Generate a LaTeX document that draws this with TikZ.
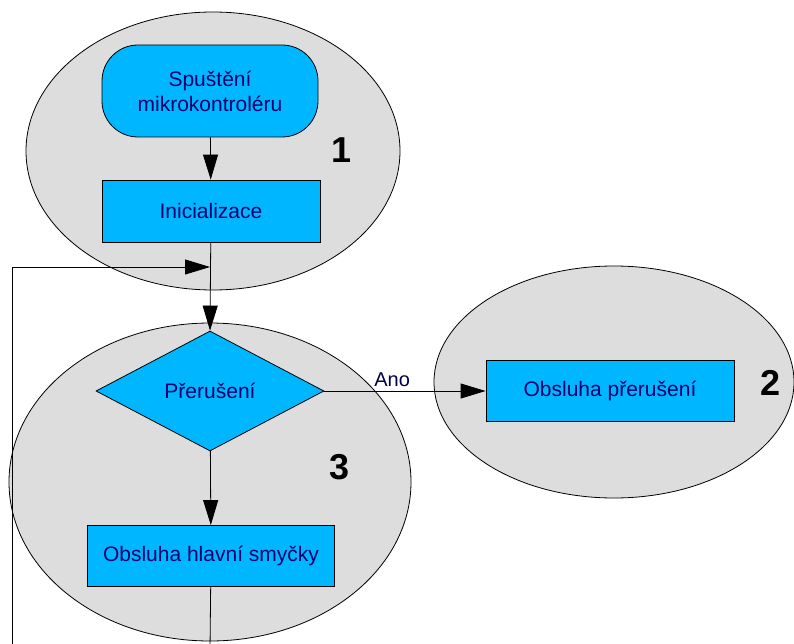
\documentclass[tikz,border=0pt]{standalone}
\usepackage{fontspec}
\setmainfont{Liberation Sans}
\usetikzlibrary{shapes.geometric,arrows.meta}
\definecolor{boxblue}{RGB}{0,183,255}
\definecolor{zonegray}{RGB}{221,221,221}
\definecolor{textnavy}{RGB}{0,0,110}
\tikzset{
  zone/.style={ellipse,draw=black,fill=zonegray,line width=0.8pt,inner sep=0pt},
  procbox/.style={rectangle,draw=black,fill=boxblue,line width=0.8pt,inner sep=0pt,
    text=textnavy,font=\fontsize{21}{25}\selectfont,align=center},
  startbox/.style={procbox,rounded corners=36pt},
  decbox/.style={diamond,draw=black,fill=boxblue,line width=0.8pt,inner sep=0pt,
    text=textnavy,font=\fontsize{21}{25}\selectfont,aspect=1.9},
  zonenum/.style={font=\fontsize{36}{36}\selectfont\bfseries,text=black,inner sep=0pt},
  flow/.style={line width=0.8pt,-{Triangle[length=25pt,width=15pt]}},
  plain/.style={line width=0.8pt}
}
\begin{document}
\begin{tikzpicture}[x=1pt,y=-1pt]
  \useasboundingbox (0,0) rectangle (794,644);

  % grey zones
  \node[zone,minimum width=374pt,minimum height=278pt] (z1) at (213,151) {};
  \node[zone,minimum width=402pt,minimum height=318pt] (z3) at (210,482) {};
  \node[zone,minimum width=360pt,minimum height=232pt] (z2) at (614,382) {};

  % zone numbers
  \node[zonenum] (n1) at (342,150) {1};
  \node[zonenum] (n2) at (770,383) {2};
  \node[zonenum] (n3) at (340,467) {3};

  % flowchart elements
  \node[startbox,minimum width=216pt,minimum height=92pt] (start) at (210,91)
    {Spuštění\\mikrokontroléru};
  \node[procbox,minimum width=218pt,minimum height=62pt] (init) at (211,211) {Inicializace};
  \node[decbox,minimum width=228pt,minimum height=120pt] (irq) at (210,391) {Přerušení};
  \node[procbox,minimum width=247pt,minimum height=61pt] (mainloop) at (211,556)
    {Obsluha hlavní smyčky};
  \node[procbox,minimum width=248pt,minimum height=61pt] (isr) at (610,391)
    {Obsluha přerušení};

  % loop return path
  \coordinate (loopdown) at (210,650);
  \coordinate (loopbl) at (12,650);
  \coordinate (looptl) at (12,267);
  \coordinate (loopjoin) at (210,267);

  % connectors
  \draw[flow] (start) -- (init);
  \draw[flow] (init) -- (irq.north);
  \draw[flow] (irq) -- (mainloop);
  \draw[flow] (irq.east) -- node[pos=0.42,above=1pt,font=\fontsize{20}{20}\selectfont,text=textnavy!60!black] {Ano} (isr.west);
  \draw[plain] (mainloop) -- (loopdown);
  \draw[flow] (loopbl) -- (looptl) -- (loopjoin);
\end{tikzpicture}
\end{document}
